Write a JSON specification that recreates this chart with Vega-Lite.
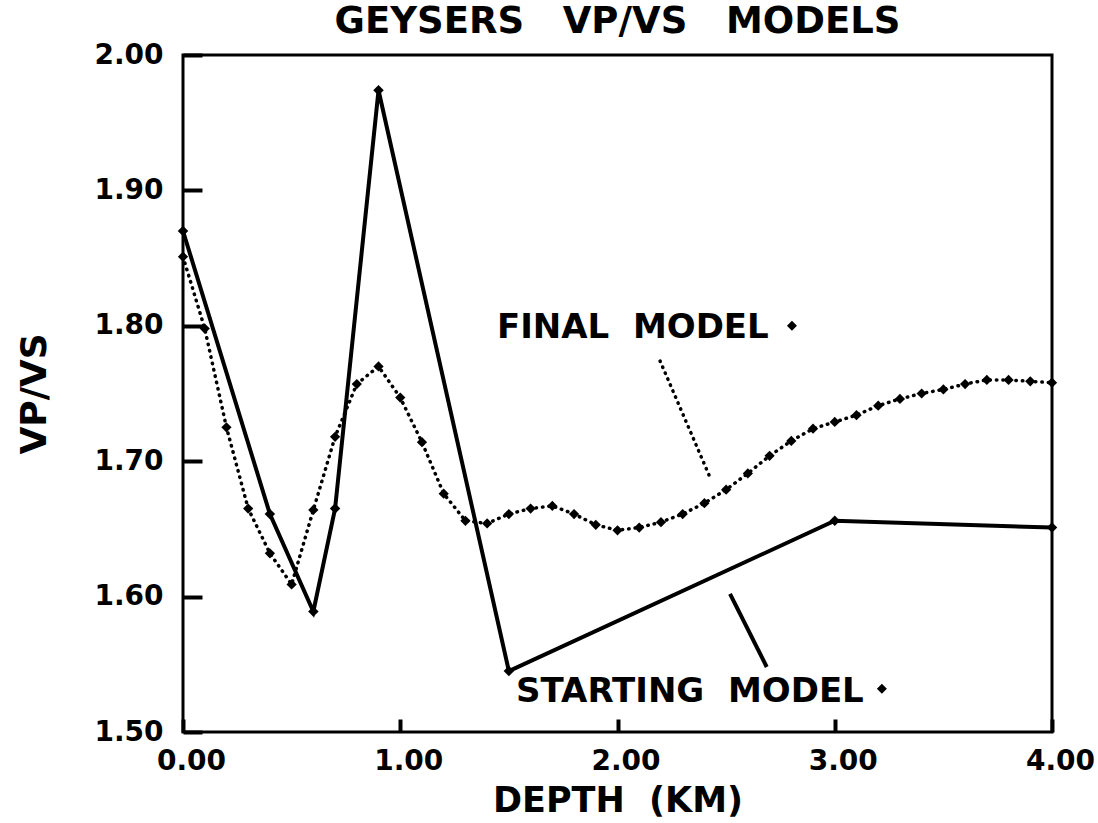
{
  "$schema": "https://vega.github.io/schema/vega-lite/v6.json",
  "width": 869,
  "height": 677,
  "autosize": {"type": "none"},
  "padding": {"left": 183, "top": 55, "right": 46, "bottom": 91},
  "background": "white",
  "title": {
    "text": "GEYSERS\u00a0\u00a0\u00a0VP/VS\u00a0\u00a0\u00a0MODELS",
    "fontSize": 37,
    "font": "DejaVu Sans",
    "fontWeight": "bold",
    "anchor": "middle",
    "offset": 0,
    "color": "black"
  },
  "config": {
    "view": {"stroke": "black", "strokeWidth": 3},
    "axis": {
      "labelFont": "DejaVu Sans",
      "labelFontWeight": "bold",
      "labelColor": "black",
      "labelFlush": false,
      "titleFont": "DejaVu Sans",
      "titleFontWeight": "bold",
      "titleColor": "black",
      "tickColor": "black",
      "tickWidth": 4,
      "grid": false,
      "domain": false,
      "zindex": 1
    }
  },
  "datasets": {
    "start": [
      {"depth": 0.0, "ratio": 1.870},
      {"depth": 0.4, "ratio": 1.661},
      {"depth": 0.6, "ratio": 1.589},
      {"depth": 0.7, "ratio": 1.665},
      {"depth": 0.9, "ratio": 1.974},
      {"depth": 1.5, "ratio": 1.545},
      {"depth": 3.0, "ratio": 1.656},
      {"depth": 4.0, "ratio": 1.651}
    ],
    "final": [
      {"depth": 0.0, "ratio": 1.851},
      {"depth": 0.1, "ratio": 1.798},
      {"depth": 0.2, "ratio": 1.725},
      {"depth": 0.3, "ratio": 1.665},
      {"depth": 0.4, "ratio": 1.632},
      {"depth": 0.5, "ratio": 1.609},
      {"depth": 0.6, "ratio": 1.664},
      {"depth": 0.7, "ratio": 1.718},
      {"depth": 0.8, "ratio": 1.757},
      {"depth": 0.9, "ratio": 1.770},
      {"depth": 1.0, "ratio": 1.747},
      {"depth": 1.1, "ratio": 1.714},
      {"depth": 1.2, "ratio": 1.676},
      {"depth": 1.3, "ratio": 1.656},
      {"depth": 1.4, "ratio": 1.654},
      {"depth": 1.5, "ratio": 1.661},
      {"depth": 1.6, "ratio": 1.665},
      {"depth": 1.7, "ratio": 1.667},
      {"depth": 1.8, "ratio": 1.661},
      {"depth": 1.9, "ratio": 1.653},
      {"depth": 2.0, "ratio": 1.649},
      {"depth": 2.1, "ratio": 1.651},
      {"depth": 2.2, "ratio": 1.655},
      {"depth": 2.3, "ratio": 1.661},
      {"depth": 2.4, "ratio": 1.669},
      {"depth": 2.5, "ratio": 1.679},
      {"depth": 2.6, "ratio": 1.691},
      {"depth": 2.7, "ratio": 1.704},
      {"depth": 2.8, "ratio": 1.715},
      {"depth": 2.9, "ratio": 1.724},
      {"depth": 3.0, "ratio": 1.729},
      {"depth": 3.1, "ratio": 1.734},
      {"depth": 3.2, "ratio": 1.741},
      {"depth": 3.3, "ratio": 1.746},
      {"depth": 3.4, "ratio": 1.750},
      {"depth": 3.5, "ratio": 1.753},
      {"depth": 3.6, "ratio": 1.757},
      {"depth": 3.7, "ratio": 1.760},
      {"depth": 3.8, "ratio": 1.760},
      {"depth": 3.9, "ratio": 1.759},
      {"depth": 4.0, "ratio": 1.758}
    ],
    "leaders": [
      {"model": "final", "x1": 2.196, "y1": 1.774, "x2": 2.426, "y2": 1.688},
      {"model": "start", "x1": 2.518, "y1": 1.602, "x2": 2.687, "y2": 1.548}
    ],
    "labels": [
      {"label": "FINAL\u00a0\u00a0MODEL", "x": 1.445, "y": 1.791},
      {"label": "STARTING\u00a0\u00a0MODEL", "x": 1.533, "y": 1.522}
    ],
    "symbols": [
      {"x": 2.803, "y": 1.800},
      {"x": 3.217, "y": 1.532}
    ]
  },
  "layer": [
    {
      "data": {"name": "start"},
      "mark": {"type": "line", "color": "black", "strokeWidth": 4, "strokeJoin": "miter"},
      "encoding": {
        "x": {
          "field": "depth", "type": "quantitative",
          "scale": {"domain": [0, 4], "nice": false, "zero": false},
          "axis": {
            "values": [0, 1, 2, 3, 4], "format": ".2f",
            "offset": -13, "tickSize": 13,
            "labelFontSize": 28, "labelPadding": 15, "labelOffset": 8,
            "title": "DEPTH\u00a0\u00a0(KM)", "titleFontSize": 35, "titlePadding": 8
          }
        },
        "y": {
          "field": "ratio", "type": "quantitative",
          "scale": {"domain": [1.5, 2.0], "nice": false, "zero": false},
          "axis": {
            "values": [1.5, 1.6, 1.7, 1.8, 1.9, 2.0], "format": ".2f",
            "offset": -19, "tickSize": 19,
            "labelFontSize": 28, "labelPadding": 20,
            "title": "VP/VS", "titleFontSize": 36, "titlePadding": 40
          }
        }
      }
    },
    {
      "data": {"name": "start"},
      "mark": {"type": "point", "shape": "diamond", "filled": true, "color": "black", "size": 110, "opacity": 1},
      "encoding": {
        "x": {"field": "depth", "type": "quantitative"},
        "y": {"field": "ratio", "type": "quantitative"}
      }
    },
    {
      "data": {"name": "final"},
      "mark": {"type": "line", "color": "black", "strokeWidth": 3.5, "strokeDash": [0.5, 6], "strokeCap": "round"},
      "encoding": {
        "x": {"field": "depth", "type": "quantitative"},
        "y": {"field": "ratio", "type": "quantitative"}
      }
    },
    {
      "data": {"name": "final"},
      "mark": {"type": "point", "shape": "diamond", "filled": true, "color": "black", "size": 105, "opacity": 1},
      "encoding": {
        "x": {"field": "depth", "type": "quantitative"},
        "y": {"field": "ratio", "type": "quantitative"}
      }
    },
    {
      "data": {"name": "leaders"},
      "transform": [{"filter": "datum.model === 'final'"}],
      "mark": {"type": "rule", "color": "black", "strokeWidth": 3.5, "strokeDash": [0.5, 6], "strokeCap": "round"},
      "encoding": {
        "x": {"field": "x1", "type": "quantitative"},
        "y": {"field": "y1", "type": "quantitative"},
        "x2": {"field": "x2"},
        "y2": {"field": "y2"}
      }
    },
    {
      "data": {"name": "leaders"},
      "transform": [{"filter": "datum.model === 'start'"}],
      "mark": {"type": "rule", "color": "black", "strokeWidth": 4},
      "encoding": {
        "x": {"field": "x1", "type": "quantitative"},
        "y": {"field": "y1", "type": "quantitative"},
        "x2": {"field": "x2"},
        "y2": {"field": "y2"}
      }
    },
    {
      "data": {"name": "labels"},
      "mark": {"type": "text", "align": "left", "baseline": "alphabetic", "font": "DejaVu Sans", "fontWeight": "bold", "fontSize": 34, "color": "black"},
      "encoding": {
        "x": {"field": "x", "type": "quantitative"},
        "y": {"field": "y", "type": "quantitative"},
        "text": {"field": "label"}
      }
    },
    {
      "data": {"name": "symbols"},
      "mark": {"type": "point", "shape": "diamond", "filled": true, "color": "black", "size": 100, "opacity": 1},
      "encoding": {
        "x": {"field": "x", "type": "quantitative"},
        "y": {"field": "y", "type": "quantitative"}
      }
    }
  ]
}
